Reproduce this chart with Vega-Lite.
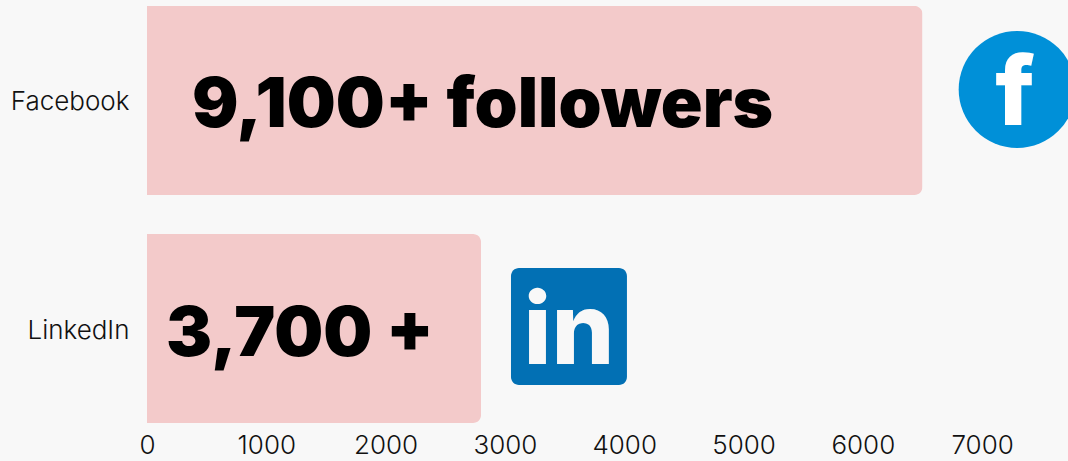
{
 "$schema":"https://vega.github.io/schema/vega-lite/v6.json",
 "width":921,"height":429,
 "autosize":{"type":"none"},
 "padding":{"left":147,"top":0,"right":0,"bottom":32},
 "background":"#f8f8f8",
 "config":{"view":{"stroke":null},"font":"Inter"},
 "datasets":{
  "main":[
   {"platform":"Facebook","value":6500,"label":"9,100+ followers","labelStart":377,"iconCenter":7294,"iconGlyph":"f","glyphCenter":7275},
   {"platform":"LinkedIn","value":2800,"label":"3,700 +","labelStart":160,"iconStart":3051,"iconEnd":4023,"iconGlyph":"in","glyphCenter":3537}
  ]
 },
 "data":{"name":"main"},
 "encoding":{
  "y":{"field":"platform","type":"nominal","sort":null,
   "scale":{"domain":["Facebook","LinkedIn"],"paddingInner":0.171,"paddingOuter":0.026},
   "axis":{"title":null,"domain":false,"ticks":false,"labelFontSize":26,"labelFont":"Inter","labelFontWeight":300,"labelColor":"#111111","labelPadding":18,"labelOffset":2}}
 },
 "layer":[
  {"mark":{"type":"bar","color":"#f3caca","cornerRadiusEnd":8},
   "encoding":{"x":{"field":"value","type":"quantitative",
     "scale":{"domain":[0,7720],"nice":false},
     "axis":{"title":null,"grid":false,"domain":false,"ticks":false,"values":[0,1000,2000,3000,4000,5000,6000,7000],"format":"d","labelFontSize":26,"labelFont":"Inter","labelFontWeight":300,"labelColor":"#111111","labelPadding":3,"labelFlush":false,"labelOverlap":false}}}},
  {"transform":[{"filter":"datum.platform==='Facebook'"}],
   "mark":{"type":"point","shape":"circle","filled":true,"opacity":1,"color":"#0090d8","size":13689,"yOffset":-11,"clip":false},
   "encoding":{"x":{"field":"iconCenter","type":"quantitative"}}},
  {"transform":[{"filter":"datum.platform==='LinkedIn'"}],
   "mark":{"type":"bar","color":"#0270b4","cornerRadius":8,"height":117,"yOffset":-2},
   "encoding":{"x":{"field":"iconStart","type":"quantitative"},"x2":{"field":"iconEnd"}}},
  {"mark":{"type":"text","align":"left","baseline":"middle","font":"Inter","fontWeight":900,"fontSize":69,"color":"#000000","yOffset":6},
   "encoding":{"x":{"field":"labelStart","type":"quantitative"},"text":{"field":"label"}}},
  {"transform":[{"filter":"datum.platform==='Facebook'"}],
   "mark":{"type":"text","align":"center","baseline":"middle","font":"Inter","fontWeight":800,"fontSize":96,"color":"#ffffff","yOffset":-4},
   "encoding":{"x":{"field":"glyphCenter","type":"quantitative"},"text":{"field":"iconGlyph"}}},
  {"transform":[{"filter":"datum.platform==='LinkedIn'"}],
   "mark":{"type":"text","align":"center","baseline":"middle","font":"Inter","fontWeight":800,"fontSize":99,"color":"#f8f8f8","yOffset":5},
   "encoding":{"x":{"field":"glyphCenter","type":"quantitative"},"text":{"field":"iconGlyph"}}}
 ]
}
